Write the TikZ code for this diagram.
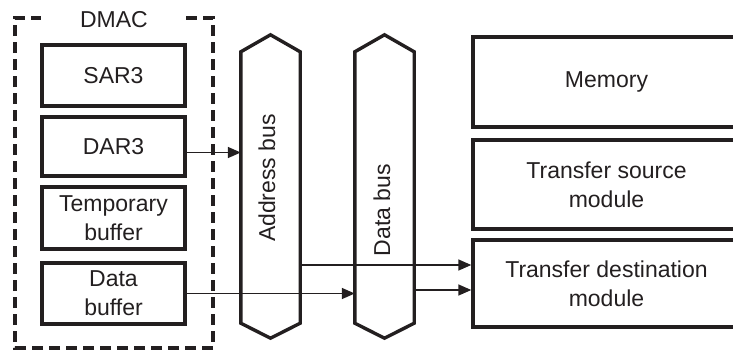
\documentclass[tikz,border=0pt]{standalone}
\usepackage{fontspec}
\setmainfont{Liberation Sans}
\usetikzlibrary{arrows.meta}
\definecolor{ink}{HTML}{231F20}
\begin{document}
\begin{tikzpicture}[x=1pt,y=-1pt,
  every node/.style={text=ink, font=\fontsize{23}{29}\selectfont},
  box/.style={draw=ink, line width=3.4pt, rectangle, inner sep=0pt, align=center},
  busarea/.style={rectangle, inner sep=0pt, minimum width=59pt, minimum height=271pt},
  busline/.style={draw=ink, line width=3.4pt, line join=miter},
  conn/.style={draw=ink, line width=1.5pt, -{Triangle[length=13pt,width=11pt]}}]
\clip (0,0) rectangle (733,349);

% DMAC dashed frame
\node (dmac) at (114,20) {DMAC};
\draw[ink, line width=3.2pt, dash pattern=on 11pt off 6pt]
  (186,18) -- (213,18) -- (213,348) -- (15,348) -- (15,18) -- (41,18);

\node[box, minimum width=143pt, minimum height=61pt] (sar) at (113.5,75.5) {SAR3};
\node[box, minimum width=143pt, minimum height=59pt] (dar) at (113.5,146.5) {DAR3};
\node[box, minimum width=143pt, minimum height=62pt] (tmp) at (113.5,218) {Temporary\\buffer};
\node[box, minimum width=143pt, minimum height=61pt] (dbuf) at (113.5,293.5) {Data\\buffer};

% buses
\node[busarea] (abus) at (270.5,187.5) {};
\node[busarea] (dbus) at (384.5,187.5) {};
\draw[busline] (abus.north west) -- ([yshift=17pt]abus.north) -- (abus.north east)
  -- (abus.south east) -- ([yshift=-15pt]abus.south) -- (abus.south west) -- cycle;
\draw[busline] (dbus.north west) -- ([yshift=17pt]dbus.north) -- (dbus.north east)
  -- (dbus.south east) -- ([yshift=-15pt]dbus.south) -- (dbus.south west) -- cycle;
\node[rotate=90] (alabel) at (267,178) {Address bus};
\node[rotate=90] (dlabel) at (382,210) {Data bus};

% right modules
\node[box, minimum width=267pt, minimum height=90pt] (mem) at (606.5,82) {Memory};
\node[box, minimum width=267pt, minimum height=89pt] (tsrc) at (606.5,184.5) {Transfer source\\module};
\node[box, minimum width=267pt, minimum height=87pt] (tdst) at (606.5,283.5) {Transfer destination\\module};

% connector ports
\coordinate (darout) at ([yshift=-6pt]dar.east);
\coordinate (tdin1) at ([yshift=18.5pt]tdst.west);
\coordinate (tdin2) at ([yshift=-6.5pt]tdst.west);

% connectors
\draw[conn] (darout) -- (abus.west |- darout);
\draw[conn] (dbuf.east) -- (dbus.west |- dbuf.east);
\draw[conn] (abus.east |- tdin1) -- (tdin1);
\draw[conn] (dbus.east |- tdin2) -- (tdin2);
\end{tikzpicture}
\end{document}
